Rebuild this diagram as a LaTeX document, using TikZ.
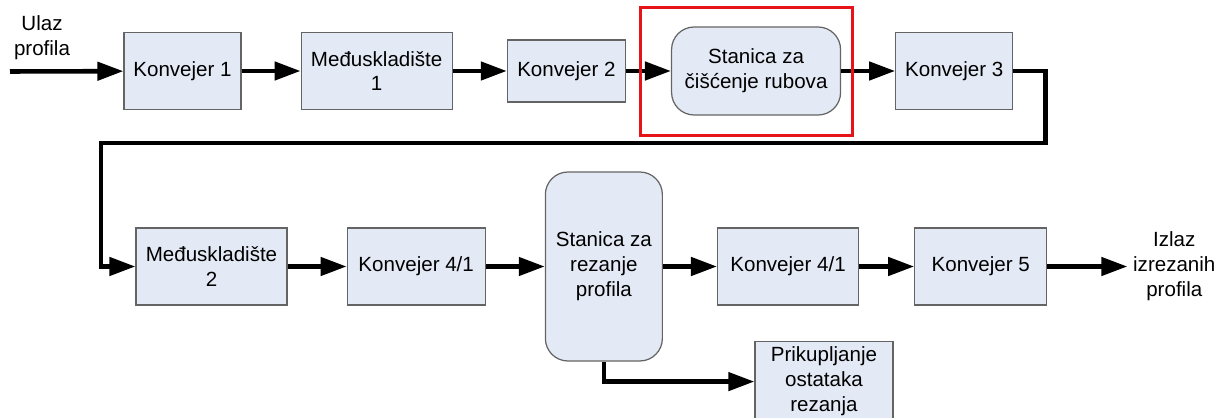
\documentclass[tikz,border=0pt]{standalone}
\usepackage{fontspec}
\setmainfont{Liberation Sans}
\usepackage{tikz}
\usetikzlibrary{arrows.meta,positioning,calc}
\definecolor{boxfill}{RGB}{228,234,245}
\definecolor{boxline}{RGB}{100,100,100}
\definecolor{okvir}{RGB}{230,20,25}
\newcommand*{\tekst}{\fontsize{11.7pt}{14.2pt}\selectfont}

\begin{document}
\begin{tikzpicture}[->, >={Triangle[length=0.52cm,width=0.36cm]}, line width=2.6pt, x=0.02cm, y=-0.02cm]
    \tikzstyle{blok}=[draw=boxline, fill=boxfill, line width=0.7pt, font=\tekst, align=center, minimum height=1.54cm]
    \tikzstyle{stanica}=[blok, rounded corners=0.45cm]
    \tikzstyle{natpis}=[font=\tekst, align=center, inner sep=2pt]
    \useasboundingbox (0,0) rectangle (1224,418);

    % gornji red
    \node[natpis]  (ulaztxt) at (42,37.5)                 {Ulaz\\profila};
    \coordinate    (ulaz)    at (10,71.5);
    \node[blok, minimum width=2.34cm]    (k1) at (182.5,71)        {Konvejer 1};
    \node[blok, minimum width=3.02cm]    (m1) [right=1.18cm of k1] {Međuskladište\\1};
    \node[blok, minimum width=2.36cm, minimum height=1.24cm] (k2) [right=1.08cm of m1] {Konvejer 2};
    \node[stanica, minimum width=3.38cm, minimum height=1.76cm] (s1) [right=0.9cm of k2] {Stanica za\\čišćenje rubova};
    \node[blok, minimum width=2.34cm]    (k3) [right=1.08cm of s1] {Konvejer 3};

    % donji red
    \node[blok, minimum width=3.02cm]    (m2) at (211.5,266.5)     {Međuskladište\\2};
    \node[blok, minimum width=2.76cm]    (k41) [right=1.18cm of m2] {Konvejer 4/1};
    \node[stanica, minimum width=2.34cm, minimum height=3.78cm] (s2) [right=1.18cm of k41] {Stanica za\\rezanje\\profila};
    \node[blok, minimum width=2.82cm]    (k42) [right=1.08cm of s2] {Konvejer 4/1};
    \node[blok, minimum width=2.64cm]    (k5) [right=1.1cm of k42]  {Konvejer 5};
    \node[natpis]  (izlaz) [right=1.6cm of k5]                   {Izlaz\\izrezanih\\profila};
    \node[blok, minimum width=2.76cm, minimum height=1.56cm] (pr) [right=3.01cm of s2.south, yshift=-0.4cm] {Prikupljanje\\ostataka\\rezanja};
    \coordinate    (skret) at (101,143);

    \path
(ulaz) edge  (k1)
(k1)   edge  (m1)
(m1)   edge  (k2)
(k2)   edge  (s1)
(s1)   edge  (k3)
(m2)   edge  (k41)
(k41)  edge  (s2)
(s2)   edge  (k42)
(k42)  edge  (k5)
(k5)   edge  (izlaz);
    \draw (k3.east) -- ++(32,0) |- (skret) |- (m2.west);
    \draw (s2.south) |- (pr.west);

    % oznaka stanice
    \draw[-, draw=okvir, line width=1.7pt] ($(s1.south west)+(-30,20)$) rectangle ($(s1.north east)+(11,-19)$);
\end{tikzpicture}
\end{document}
